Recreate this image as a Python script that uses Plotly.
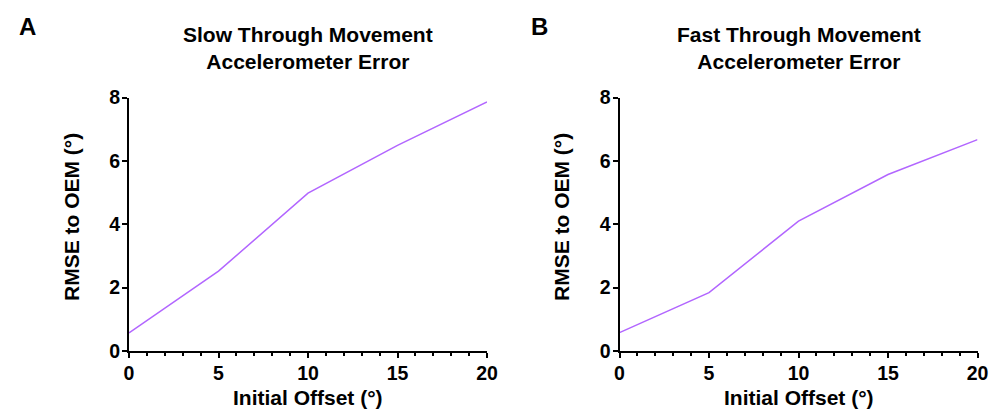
import plotly.graph_objects as go
from plotly.subplots import make_subplots

offsets = [0, 5, 10, 15, 20]
slow_rmse = [0.57, 2.52, 4.98, 6.49, 7.86]
fast_rmse = [0.58, 1.84, 4.10, 5.57, 6.67]

titles = ["Slow Through Movement<br>Accelerometer Error",
          "Fast Through Movement<br>Accelerometer Error"]
panel_letters = ["A", "B"]
x_title = "Initial Offset (°)"
y_title = "RMSE to OEM (°)"
x_ticks = [0, 5, 10, 15, 20]
y_ticks = [0, 2, 4, 6, 8]

W, H = 997, 409
FONT = "Liberation Sans, Arial, sans-serif"
LINE_COLOR = "#B266FF"

fig = make_subplots(rows=1, cols=2)
fig.add_trace(go.Scatter(x=offsets, y=slow_rmse, mode="lines",
                         line=dict(color=LINE_COLOR, width=1.5), showlegend=False,
                         hoverinfo="skip"), 1, 1)
fig.add_trace(go.Scatter(x=offsets, y=fast_rmse, mode="lines",
                         line=dict(color=LINE_COLOR, width=1.5), showlegend=False,
                         hoverinfo="skip"), 1, 2)

px = lambda v: v / W
py = lambda v: 1 - v / H

xdoms = [[px(129), px(487)], [px(619.5), px(977.5)]]
ydom = [py(351), py(97.5)]

common_x = dict(range=[0, 20], tickvals=x_ticks, showline=True, linewidth=2, linecolor="black",
                ticks="outside", ticklen=5, tickwidth=2, tickcolor="black",
                minor=dict(dtick=1, ticks="outside", ticklen=3, tickwidth=1.5, tickcolor="black"),
                showgrid=False, zeroline=False, automargin=False, ticklabelstandoff=-1,
                tickfont=dict(family=FONT, size=19.5, color="black", weight="bold"))
common_y = dict(range=[0, 8], tickvals=y_ticks, showline=True, linewidth=2, linecolor="black",
                ticks="outside", ticklen=5, tickwidth=2, tickcolor="black",
                showgrid=False, zeroline=False, automargin=False, ticklabelstandoff=-2,
                tickfont=dict(family=FONT, size=19.5, color="black", weight="bold"))

fig.update_layout(
    template="none",
    width=W, height=H, margin=dict(l=0, r=0, t=0, b=0, pad=0),
    plot_bgcolor="white", paper_bgcolor="white",
    xaxis=dict(domain=xdoms[0], **common_x),
    xaxis2=dict(domain=xdoms[1], **common_x),
    yaxis=dict(domain=ydom, **common_y),
    yaxis2=dict(domain=ydom, **common_y),
)

tfont = dict(family=FONT, size=21, color="black", weight="bold")
afont = dict(family=FONT, size=21, color="black", weight="bold")
lfont = dict(family=FONT, size=24, color="black", weight="bold")

centers = [308, 798.5]
ytitle_x = [72, 562]
letter_x = [27.5, 539]
for i in range(2):
    fig.add_annotation(text=titles[i], x=px(centers[i]), y=py(48), xref="paper", yref="paper",
                       showarrow=False, font=tfont, xanchor="center", yanchor="middle", align="center")
    fig.add_annotation(text=x_title, x=px(centers[i]), y=py(397), xref="paper", yref="paper",
                       showarrow=False, font=afont, xanchor="center", yanchor="middle")
    fig.add_annotation(text=y_title, x=px(ytitle_x[i]), y=py(217), xref="paper", yref="paper",
                       showarrow=False, font=afont, textangle=-90, xanchor="center", yanchor="middle")
    fig.add_annotation(text=panel_letters[i], x=px(letter_x[i]), y=py(26.5), xref="paper", yref="paper",
                       showarrow=False, font=lfont, xanchor="center", yanchor="middle")

fig.write_html("out.html", config={"displayModeBar": False},
               post_script="document.body.style.margin='0';document.body.style.padding='0';")
